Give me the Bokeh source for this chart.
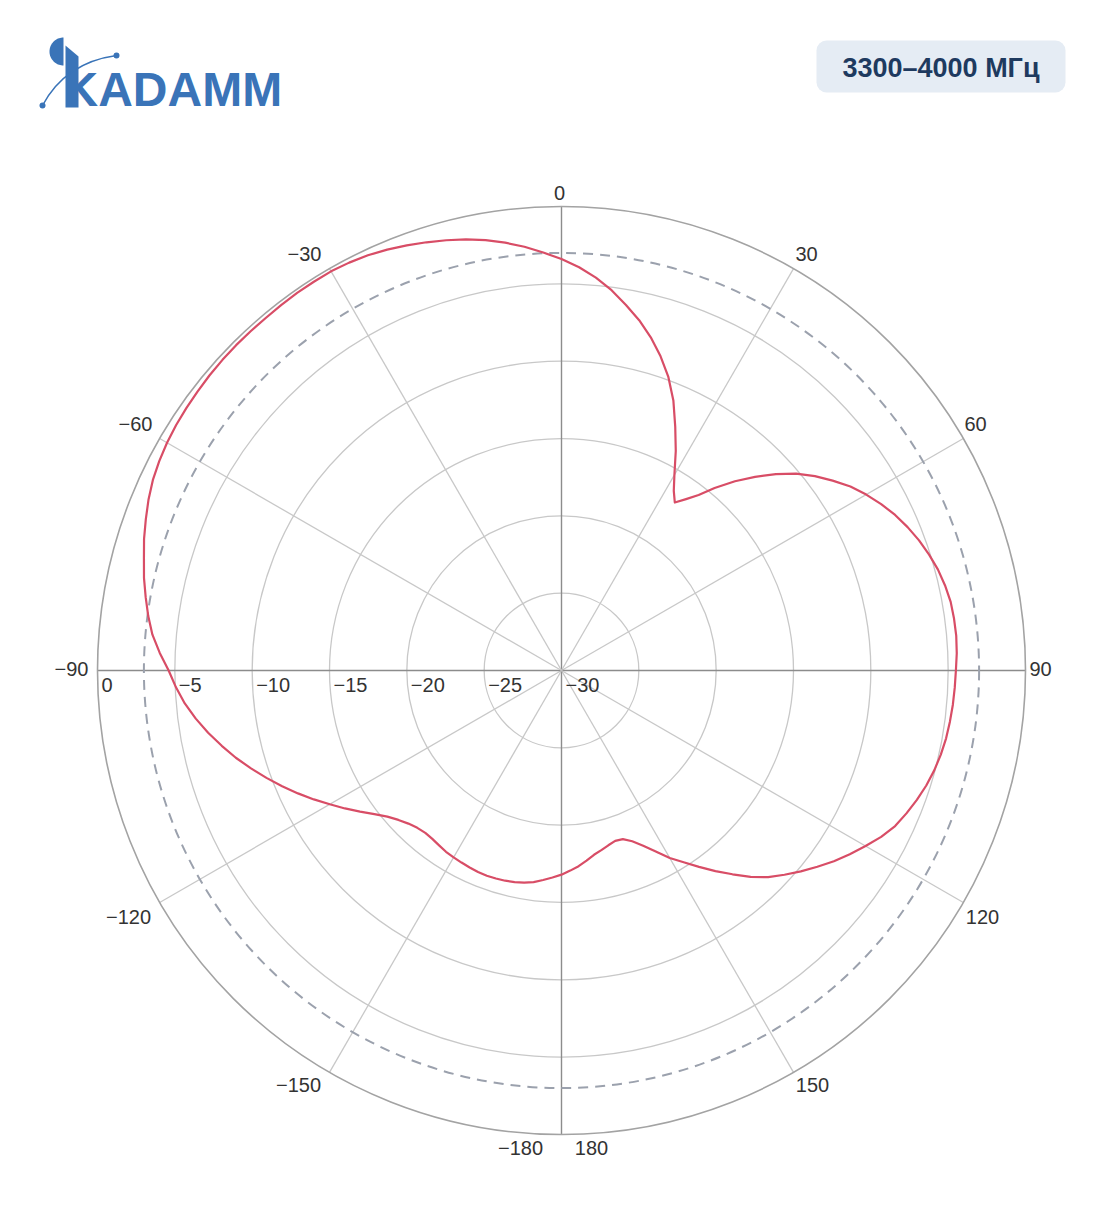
import numpy as np
from bokeh.plotting import figure
from bokeh.models import Range1d
from bokeh.embed import file_html
from bokeh.resources import INLINE
from bokeh.core.properties import value

# ---------------- data ----------------
angles_deg = [-180, -177.5, -175, -172.5, -170, -167.5, -165, -162.5, -160, -157.5, -155, -152.5,
              -150, -147.5, -145, -142.5, -140, -137.5, -135, -132.5, -130, -127.5, -125, -122.5,
              -120, -117.5, -115, -112.5, -110, -107.5, -105, -102.5, -100, -97.5, -95, -92.5,
              -90, -87.5, -85, -82.5, -80, -77.5, -75, -72.5, -70, -67.5, -65, -62.5, -60, -57.5,
              -55, -52.5, -50, -47.5, -45, -42.5, -40, -37.5, -35, -32.5, -30, -27.5, -25, -22.5,
              -20, -17.5, -15, -12.5, -10, -7.5, -5, -2.5, 0, 2.5, 5, 7.5, 10, 12.5, 15, 17.5,
              20, 22.5, 25, 27.5, 30, 32, 34, 36, 38, 40, 42.5, 45, 47.5, 50, 52.5, 55, 57.5, 60,
              62.5, 65, 67.5, 70, 72.5, 75, 77.5, 80, 82.5, 85, 87.5, 90, 92.5, 95, 97.5, 100,
              102.5, 105, 107.5, 110, 112.5, 115, 117.5, 120, 122.5, 125, 127.5, 130, 132.5, 135,
              137.5, 140, 142.5, 145, 147.5, 150, 152.5, 155, 157.5, 160, 162.5, 165, 167.5, 170,
              172.5, 175, 177.5, 180]
gain_db = [-16.8, -16.6, -16.4, -16.2, -16.07, -15.98, -15.93, -15.9, -15.88, -15.9, -15.95, -16.0,
           -16.05, -16.1, -16.2, -16.28, -16.3, -16.2, -16.0, -15.7, -15.3, -14.75, -14.1, -13.4,
           -12.7, -11.95, -11.2, -10.45, -9.7, -8.95, -8.2, -7.5, -6.8, -6.15, -5.55, -5.05,
           -4.6, -4.0, -3.45, -3.05, -2.7, -2.35, -2.05, -1.7, -1.4, -1.1, -0.85, -0.68, -0.55,
           -0.46, -0.4, -0.35, -0.3, -0.27, -0.25, -0.25, -0.25, -0.22, -0.2, -0.2, -0.2, -0.27,
           -0.38, -0.55, -0.75, -0.97, -1.2, -1.45, -1.75, -2.1, -2.5, -2.95, -3.4, -3.9, -4.5,
           -5.2, -6.0, -6.8, -7.7, -8.7, -9.8, -11.1, -12.6, -14.0, -15.4, -16.3, -16.9, -16.3,
           -15.6, -14.6, -13.4, -12.3, -11.2, -10.2, -9.35, -8.6, -7.85, -7.25, -6.7, -6.2,
           -5.78, -5.4, -5.08, -4.8, -4.6, -4.45, -4.4, -4.38, -4.42, -4.5, -4.55, -4.6, -4.67,
           -4.75, -4.88, -5.05, -5.27, -5.55, -5.86, -6.2, -6.7, -7.3, -7.9, -8.5, -9.15, -9.8,
           -10.45, -11.1, -11.9, -12.8, -13.65, -14.5, -15.3, -16.0, -16.8, -17.5, -18.05,
           -18.4, -18.45, -18.3, -18.1, -17.9, -17.6, -17.3, -17.05, -16.8]
ring_levels = [-5, -10, -15, -20, -25]
ring_labels = ["0", "−5", "−10", "−15", "−20", "−25", "−30"]
ring_label_levels = [0, -5, -10, -15, -20, -25, -30]
dashed_level = -3
spoke_angles = [0, 30, 60, 90, 120, 150, 180, 210, 240, 270, 300, 330]
angle_labels = ["0", "30", "60", "90", "120", "150", "180", "−180", "−150", "−120", "−90", "−60", "−30"]
badge_text = "3300–4000 МГц"
logo_text = "KADAMM"

# ---------------- layout ----------------
W, H = 1100, 1205
CX, CY, R = 561.0, 670.0, 464.0
DB_MIN = -30.0
angle_label_pos = [(559, 192), (806, 253), (975, 423), (1040, 668), (982, 916), (812, 1084),
                   (591, 1147), (520, 1147), (298, 1084), (128, 916), (71, 668), (135, 423),
                   (304, 253)]
BLUE = "#3a74b8"


def rad(db):
    return (np.asarray(db, dtype=float) - DB_MIN) / (0 - DB_MIN) * R


def to_xy(theta_deg, db):
    t = np.radians(np.asarray(theta_deg, dtype=float))
    r = rad(db)
    return CX + r * np.sin(t), CY - r * np.cos(t)


p = figure(width=W, height=H, x_range=Range1d(0, W), y_range=Range1d(H, 0),
           min_border=0, toolbar_location=None, output_backend="svg")
p.axis.visible = False
p.grid.visible = False
p.outline_line_color = None
p.background_fill_color = "white"
p.border_fill_color = "white"

# rings
p.circle(x=[CX] * len(ring_levels), y=[CY] * len(ring_levels), radius=list(rad(ring_levels)),
         fill_color=None, line_color="#c8c8c8", line_width=1.3)

# spokes
for a in spoke_angles:
    ex, ey = to_xy([a], [0])
    main = a % 90 == 0
    p.line([CX, ex[0]], [CY, ey[0]], line_color="#8c8c8c" if main else "#c8c8c8",
           line_width=1.4 if main else 1.3)

# dashed ring (-3 dB)
p.circle(x=[CX], y=[CY], radius=[float(rad(dashed_level))], fill_color=None,
         line_color="#9ba1ad", line_width=2, line_dash="10 7")

# outer ring
p.circle(x=[CX], y=[CY], radius=[R], fill_color=None, line_color="#a3a3a3", line_width=1.6)

# pattern curve
xs, ys = to_xy(angles_deg, gain_db)
p.line(list(xs), list(ys), line_color="#d84d66", line_width=2.2, line_join="round")

# ring labels
lx = [CX - float(rad(v)) + 4 for v in ring_label_levels]
p.text(x=lx, y=[684] * len(lx), text=ring_labels, text_align="left", text_baseline="middle",
       text_font=value("Liberation Sans"), text_font_size="20px", text_color="#333333")

# angle labels
p.text(x=[q[0] for q in angle_label_pos], y=[q[1] for q in angle_label_pos], text=angle_labels,
       text_align="center", text_baseline="middle", text_font=value("Liberation Sans"),
       text_font_size="20px", text_color="#333333")

# badge
p.rect(x=[940.5], y=[66], width=[249], height=[52], fill_color="#e5ecf4", line_color=None,
       border_radius=10)
p.text(x=[940.5], y=[67], text=[badge_text], text_align="center", text_baseline="middle",
       text_font=value("Liberation Sans"), text_font_style="bold", text_font_size="27px",
       text_color="#1e3a5f")

# logo
t = np.linspace(0, np.pi, 40)
p.patch(list(63 - 14 * np.sin(t)), list(51 - 14 * np.cos(t)), fill_color=BLUE, line_color=None)
p.text(x=[63], y=[89], text=[logo_text], text_align="left", text_baseline="middle",
       text_font=value("Liberation Sans"), text_font_style="bold", text_font_size="48px",
       text_color=BLUE)
p.patch([65, 78, 78, 65], [45, 56, 107, 107], fill_color=BLUE, line_color=None)
p.quadratic(x0=[42], y0=[105], x1=[116], y1=[55], cx=[65], cy=[62], line_color=BLUE,
            line_width=1.5)
p.scatter(x=[42, 116], y=[105, 55], size=6, fill_color=BLUE, line_color=None)

open("out.html", "w").write(file_html(p, INLINE))
